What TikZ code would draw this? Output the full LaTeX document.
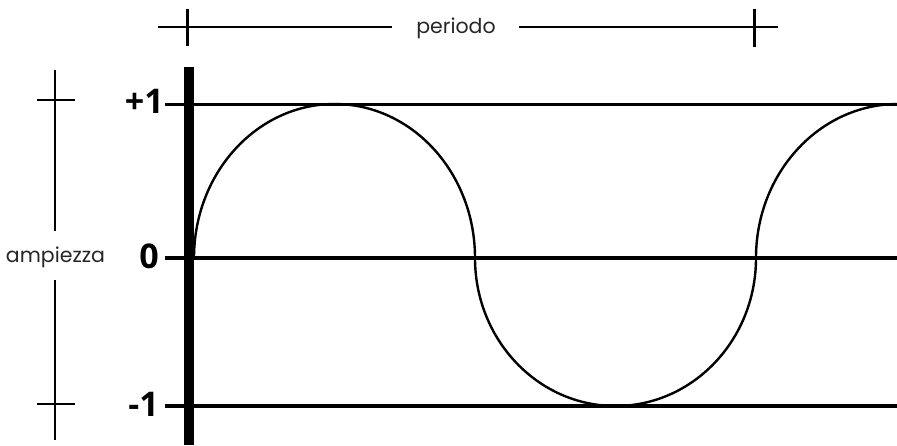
\documentclass[tikz,border=0pt]{standalone}
\usepackage{fontspec}
\setmainfont{Poppins}
\newfontfamily\numfont{Open Sans}
\begin{document}
\begin{tikzpicture}[x=1pt,y=-1pt,
  thinline/.style={line width=1.2pt},
  tick/.style={line width=3pt},
  level/.style={line width=3pt},
  wave/.style={line width=2.4pt},
  numlbl/.style={font=\numfont\bfseries\fontsize{34}{34}\selectfont, anchor=east, inner sep=0pt},
  smalllbl/.style={font=\fontsize{20.5}{20.5}\selectfont, text=black!85, inner sep=0pt, anchor=base}]
\useasboundingbox (0,0) rectangle (897,445);
% period marker
\node[smalllbl] (per) at (456,33) {periodo};
\coordinate (pl) at (158,27);
\coordinate (pr) at (778,27);
\coordinate (pgl) at (392,27);
\coordinate (pgr) at (519,27);
\draw[thinline] (pl) -- (pgl);
\draw[thinline] (pgr) -- (pr);
\draw[tick] (187,9) -- (187,46);
\draw[tick] (754,9) -- (754,47);
% amplitude marker
\node[smalllbl] (amp) at (55.5,262) {ampiezza};
\coordinate (at) at (55,70);
\coordinate (ab) at (55,440);
\draw[thinline] (at) -- (55,231);
\draw[thinline] (55,280) -- (ab);
\draw[line width=2.4pt] (37,100) -- (75,100);
\draw[line width=2.4pt] (37,404) -- (75,404);
% level lines
\draw[level] (165,104) -- (897,104);
\draw[line width=4.5pt] (165,258) -- (897,258);
\draw[line width=3.2pt] (165,406) -- (897,406);
% labels
\node[numlbl] (p1) at (164,101) {+1};
\node[numlbl] (z0) at (159,256) {0};
\node[numlbl] (m1) at (159,404) {-1};
% wave
\draw[wave] (194,258) arc[start angle=180, end angle=360, x radius=140.5, y radius=154]
  arc[start angle=180, end angle=0, x radius=140.5, y radius=148]
  arc[start angle=180, end angle=270, x radius=142, y radius=154];
% axis
\draw[line width=10pt] (189,67) -- (189,445);
\end{tikzpicture}
\end{document}
